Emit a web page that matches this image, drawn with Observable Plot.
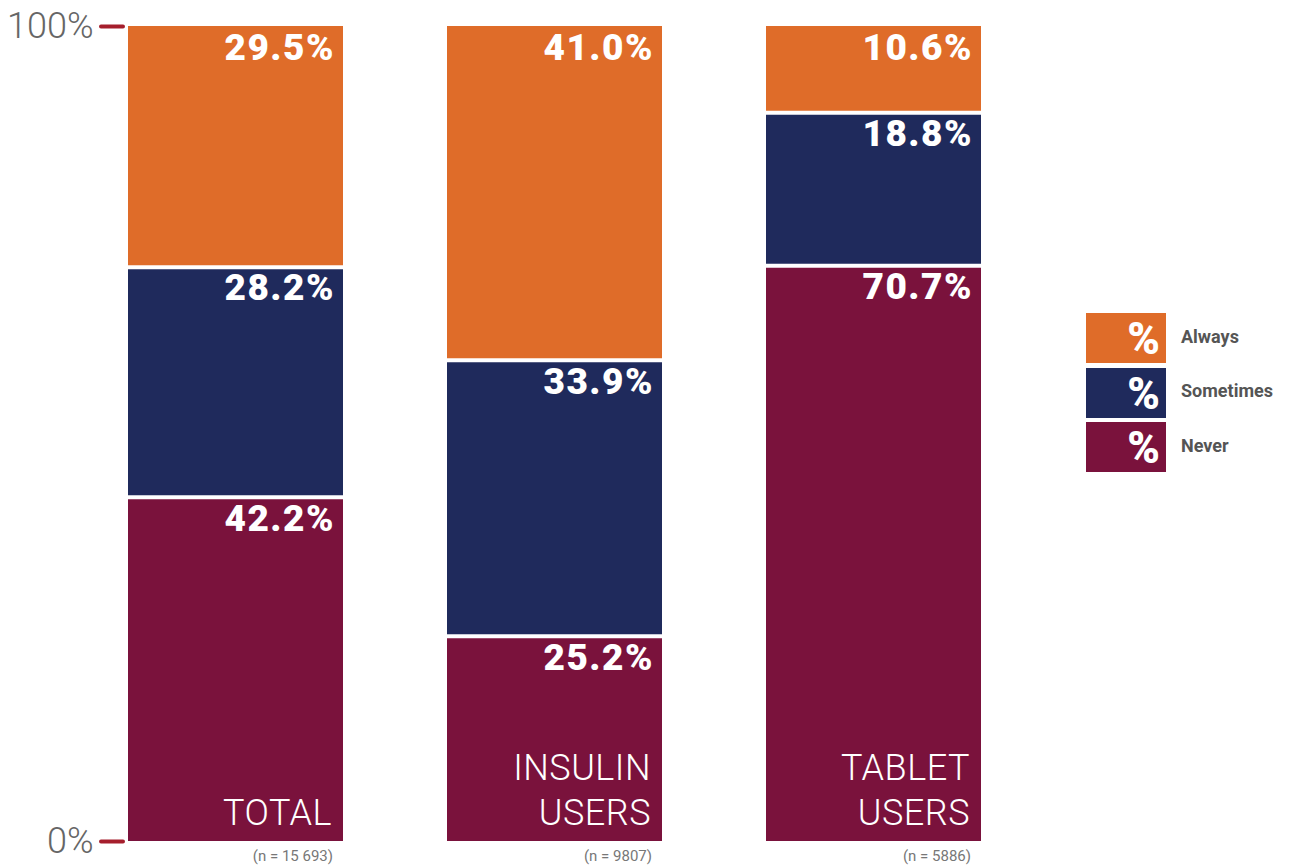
<!DOCTYPE html>
<html><head><meta charset="utf-8">
<script src="https://cdn.jsdelivr.net/npm/d3@7"></script>
<script src="https://cdn.jsdelivr.net/npm/@observablehq/plot@0.6"></script>
<style>
body{margin:0;background:#fff;font-family:Roboto, sans-serif;}
#wrap{position:relative;width:1297px;height:866px;}
#legend{position:absolute;left:1086px;top:313px;}
.item{display:flex;align-items:center;height:50px;margin-bottom:4.5px}
.sw{width:80px;height:50px;color:#fff;font-weight:900;font-size:44px;text-align:right;box-sizing:border-box;padding-right:6px;line-height:52px}
.lab{margin-left:15px;font-weight:700;font-size:18px;color:#555;margin-top:-4px}
.vlab text{letter-spacing:1.5px}
.glab text{letter-spacing:0.5px}
</style></head><body><div id="wrap"><div id="legend"></div></div>
<script>
const groups = ["TOTAL", "INSULIN USERS", "TABLET USERS"];
const groupLabels = ["TOTAL", "INSULIN\nUSERS", "TABLET\nUSERS"];
const sampleSizes = ["(n = 15 693)", "(n = 9807)", "(n = 5886)"];
const categories = ["Never", "Sometimes", "Always"];
const never = [42.2, 25.2, 70.7];
const sometimes = [28.2, 33.9, 18.8];
const always = [29.5, 41.0, 10.6];
const colors = ["#7a123c", "#1f2a5c", "#df6c29"];
const yTicks = [0, 1];

const series = [never, sometimes, always];
const rows = [];
groups.forEach((g, i) => {
  categories.forEach((c, j) => rows.push({group: g, cat: c, value: series[j][i]}));
});
const groupRows = groups.map((g, i) => ({group: g, label: groupLabels[i], n: sampleSizes[i]}));

const stackOpts = {x: "group", y: "value", z: "cat", offset: "normalize"};

const chart = Plot.plot({
  width: 1297,
  height: 866,
  marginTop: 26,
  marginBottom: 25,
  marginLeft: 127,
  marginRight: 315,
  style: {fontFamily: "Roboto, sans-serif", background: "white"},
  x: {domain: groups, paddingInner: 0.325, paddingOuter: 0, axis: null},
  y: {domain: [0, 1], label: null},
  color: {domain: categories, range: colors},
  marks: [
    Plot.barY(rows, Plot.stackY({...stackOpts, fill: "cat"})),
    Plot.tickY(rows, Plot.stackY2({...stackOpts, stroke: "white", strokeWidth: 4,
      strokeOpacity: d => d.cat === "Always" ? 0 : 1})),
    Plot.text(rows, Plot.stackY2({...stackOpts,
      text: d => d.value.toFixed(1) + "%", className: "vlab",
      textAnchor: "end", dx: 99, lineAnchor: "top", dy: 7,
      fill: "white", fontSize: 37, fontWeight: 900})),
    Plot.text(groupRows, {x: "group", text: "label", frameAnchor: "bottom", className: "glab",
      textAnchor: "end", lineAnchor: "bottom", dx: 96, dy: -17, lineHeight: 1.25,
      fill: "white", fontSize: 36, fontWeight: 300}),
    Plot.text(groupRows, {x: "group", text: "n", frameAnchor: "bottom",
      textAnchor: "end", lineAnchor: "middle", dx: 97, dy: 15,
      fill: "#777", fontSize: 15}),
    Plot.axisY({ticks: yTicks, tickFormat: d => (d * 100) + "%", tickSize: 22, tickPadding: 8,
      label: null, dx: -4, stroke: "#a51e2c", strokeWidth: 4, strokeLinecap: "round",
      fill: "#666", fontSize: 36, fontWeight: 300})
  ]
});
document.getElementById("wrap").prepend(chart);

const legend = document.getElementById("legend");
categories.slice().reverse().forEach(c => {
  const item = document.createElement("div");
  item.className = "item";
  const sw = document.createElement("div");
  sw.className = "sw";
  sw.style.background = colors[categories.indexOf(c)];
  sw.textContent = "%";
  const lab = document.createElement("div");
  lab.className = "lab";
  lab.textContent = c;
  item.append(sw, lab);
  legend.append(item);
});
</script></body></html>
